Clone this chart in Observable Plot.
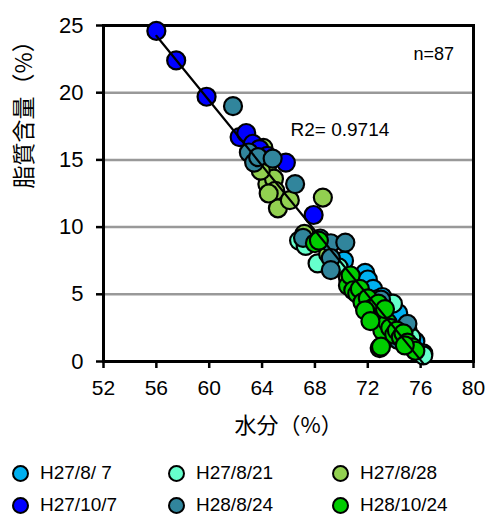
<!DOCTYPE html>
<html>
<head>
<meta charset="utf-8">
<script src="https://cdn.jsdelivr.net/npm/d3@7"></script>
<script src="https://cdn.jsdelivr.net/npm/@observablehq/plot@0.6"></script>
<style>
  body { margin: 0; background: #fff; font-family: "Liberation Sans", Arial, "Noto Sans CJK JP", sans-serif; }
  #chart { position: relative; width: 487px; }
  #legend { position: relative; width: 487px; height: 66px; font-size: 19px; color: #000; }
  .item { position: absolute; display: flex; align-items: center; white-space: pre; height: 20px; }
  .sw { width: 13px; height: 13px; border-radius: 50%; border: 2px solid #000; margin-right: 11px; }
</style>
</head>
<body>
<div id="chart"></div>
<div id="legend"></div>
<script>
// Sampling dates (series) and their fill colours
const seriesNames = ["H27/8/ 7", "H27/8/21", "H27/8/28", "H27/10/7", "H28/8/24", "H28/10/24"];
const seriesColors = ["#00B0F0", "#66FFCC", "#92D050", "#0000FF", "#31859C", "#00CC00"];

// Water content (%) and lipid content (%) per sampling date
const water_H27_8_7 = [70.2, 71.8, 72.0, 72.4, 73.1, 73.7, 74.3, 75.0, 75.6, 76.2];
const fat_H27_8_7   = [7.5, 6.6, 6.1, 5.4, 4.8, 4.3, 3.6, 2.4, 1.5, 0.6];

const water_H27_8_21 = [66.8, 67.3, 68.2, 69.8, 72.6, 73.9, 75.3, 76.2];
const fat_H27_8_21   = [9.0, 8.6, 7.3, 7.0, 4.6, 4.3, 1.8, 0.45];

const water_H27_8_28 = [64.1, 64.4, 64.4, 64.9, 65.0, 65.2, 64.5, 66.1, 68.6, 63.9, 67.2, 69.0, 70.5, 72.2];
const fat_H27_8_28   = [15.9, 14.6, 13.2, 13.6, 12.7, 11.4, 12.5, 12.0, 12.2, 14.2, 9.5, 8.0, 6.2, 4.5];

const water_H27_10_7 = [56.0, 57.5, 59.8, 62.3, 62.8, 63.3, 63.8, 64.4, 65.8, 67.9];
const fat_H27_10_7   = [24.6, 22.4, 19.7, 16.7, 17.0, 16.2, 15.8, 15.3, 14.8, 10.9];

const water_H28_8_24 = [61.8, 63.0, 63.4, 63.7, 64.8, 66.5, 67.1, 68.4, 69.2, 70.3, 69.2, 69.2, 71.5, 73.0, 75.0, 74.3];
const fat_H28_8_24   = [19.0, 15.55, 14.8, 15.2, 15.1, 13.2, 9.2, 9.15, 8.8, 8.85, 7.7, 6.8, 5.0, 4.6, 2.8, 1.6];

const water_H28_10_24 = [68.0, 68.3, 70.5, 70.7, 70.9, 71.2, 71.4, 71.6, 72.0, 72.4, 72.6, 72.8, 73.1, 73.2, 73.5,
                         73.7, 74.0, 74.2, 74.5, 74.7, 75.0, 75.4, 75.6, 72.9, 73.0, 71.8, 72.2, 73.3, 74.8];
const fat_H28_10_24   = [8.8, 9.0, 5.65, 6.4, 5.3, 5.05, 5.4, 4.4, 4.7, 4.0, 3.2, 4.3, 2.3, 3.4, 2.9,
                         2.5, 2.0, 2.3, 1.8, 2.1, 1.4, 1.05, 0.8, 1.0, 1.1, 3.8, 3.0, 3.9, 1.2];

const xTicks = [52, 56, 60, 64, 68, 72, 76, 80];
const yTicks = [0, 5, 10, 15, 20, 25];
const r2Label = "R2= 0.9714";

const waters = [water_H27_8_7, water_H27_8_21, water_H27_8_28, water_H27_10_7, water_H28_8_24, water_H28_10_24];
const fats = [fat_H27_8_7, fat_H27_8_21, fat_H27_8_28, fat_H27_10_7, fat_H28_8_24, fat_H28_10_24];

const points = seriesNames.flatMap((s, i) => waters[i].map((w, j) => ({series: s, water: w, fat: fats[i][j]})));

const font = "\"Liberation Sans\", Arial, \"Noto Sans CJK JP\", sans-serif";
const cjkFont = "\"Noto Sans CJK JP\", sans-serif";

const chart = Plot.plot({
  width: 487,
  height: 450,
  marginTop: 25,
  marginRight: 14,
  marginBottom: 89,
  marginLeft: 103,
  style: {fontFamily: font, fontSize: "18px", color: "#000", background: "#fff"},
  x: {domain: [52, 80]},
  y: {domain: [0, 25]},
  color: {domain: seriesNames, range: seriesColors},
  marks: [
    Plot.gridY([5, 10, 15, 20], {stroke: "#999", strokeOpacity: 1, strokeWidth: 2.5}),
    Plot.axisX(xTicks, {tickSize: 7, tickPadding: 12, strokeWidth: 2.5, label: null, fontSize: 21, fill: "#000"}),
    Plot.axisY(yTicks, {tickSize: 7, tickPadding: 13, strokeWidth: 2.5, label: null, fontSize: 22, fill: "#000"}),
    Plot.frame({stroke: "#000", strokeWidth: 3}),
    Plot.dot(points, {x: "water", y: "fat", fill: "series", r: 9, stroke: "#000", strokeWidth: 2.2}),
    Plot.linearRegressionY(points, {x: "water", y: "fat", stroke: "#000", strokeWidth: 2.2, ci: 0}),
    Plot.text([`n=${points.length}`], {frameAnchor: "top-left", dx: 310, dy: 22, textAnchor: "start", fontSize: 18, fill: "#000"}),
    Plot.text([r2Label], {frameAnchor: "top-left", dx: 187, dy: 97, textAnchor: "start", fontSize: 19, fill: "#000"}),
    Plot.text(["水分（%）"], {frameAnchor: "bottom", dy: 71, fontSize: 22, fontFamily: cjkFont, fill: "#000"}),
    Plot.text(["脂質含量（%）"], {frameAnchor: "left", dx: -79, dy: -5, rotate: -90, fontSize: 23, fontFamily: cjkFont, fill: "#000"})
  ]
});
document.getElementById("chart").append(chart);

// Legend: two rows of three entries below the plot
const legend = document.getElementById("legend");
const colX = [12, 168, 332];
const rowY = [23, 55];
seriesNames.forEach((s, i) => {
  const item = document.createElement("div");
  item.className = "item";
  item.style.left = colX[i % 3] + "px";
  item.style.top = (rowY[Math.floor(i / 3)] - 10) + "px";
  const sw = document.createElement("span");
  sw.className = "sw";
  sw.style.background = seriesColors[i];
  const t = document.createElement("span");
  t.textContent = s;
  item.append(sw, t);
  legend.append(item);
});
</script>
</body>
</html>
